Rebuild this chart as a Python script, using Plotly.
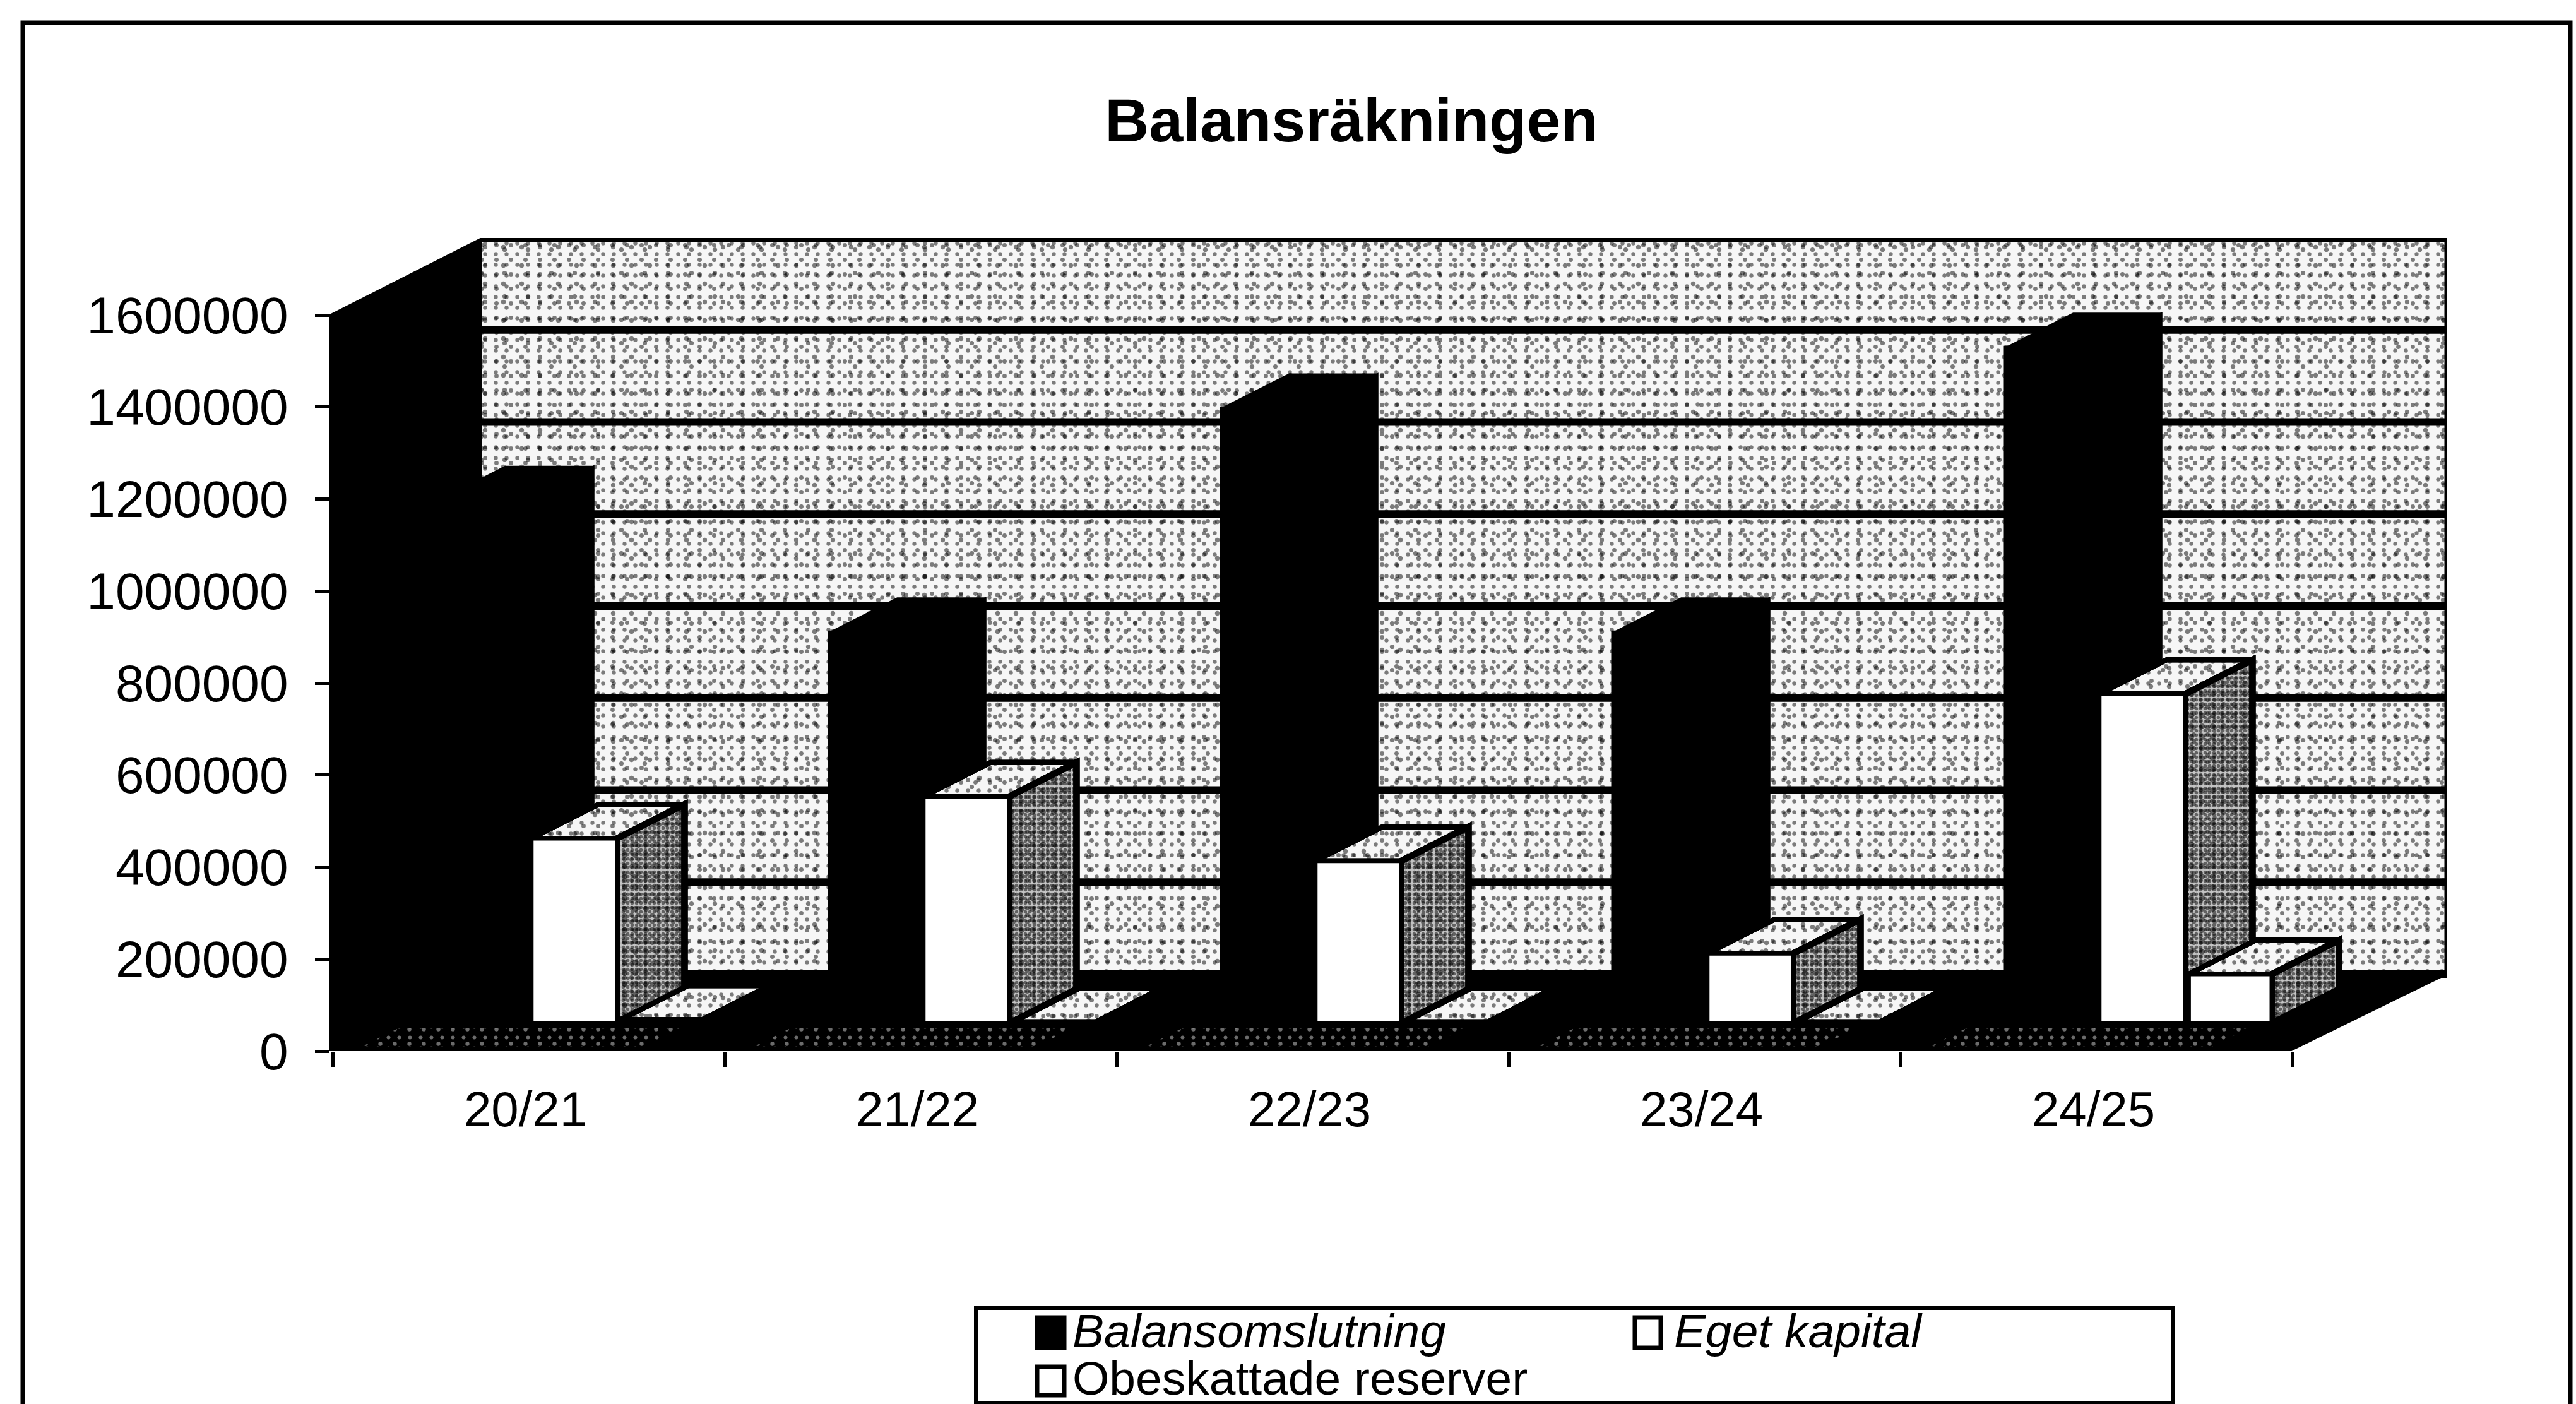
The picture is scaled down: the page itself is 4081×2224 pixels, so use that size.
import plotly.graph_objects as go

title = "Balansräkningen"
categories = ["20/21", "21/22", "22/23", "23/24", "24/25"]
series_names = ["Balansomslutning", "Eget kapital", "Obeskattade reserver"]
balansomslutning = [1135000, 849000, 1336000, 849000, 1468000]
eget_kapital = [402000, 493000, 353000, 152000, 716000]
obeskattade_reserver = [8000, 3000, 3000, 3000, 107000]
y_ticks = [0, 200000, 400000, 600000, 800000, 1000000, 1200000, 1400000, 1600000]

W, H = 4081, 2224
L, R, T, B = 522, 3876, 377, 1665      # plot area in page pixels
CAT_PX = 621
PX_Y = 1166 / 1600000
FONT = "Liberation Sans"

DX = 241 / CAT_PX            # full depth of the box in x units
DY = 122 / PX_Y              # full depth of the box in y units
T1, T2 = 44 / 122, 98 / 122  # bar front / back position in the depth
LIFT = T1 * DY
BAR_DX, BAR_DY = (T2 - T1) * DX, (T2 - T1) * DY
LEFT = [0.137, 0.375, 0.603]
RIGHT = [0.361, 0.594, 0.815]
XMAX = (R - L) / CAT_PX
YMAX = (B - T) / PX_Y
N = len(categories)
TICK_SHIFT = 5 / CAT_PX


def px(x):
    return (x - L) / (R - L)


def py(y):
    return (B - y) / (B - T)


def poly(xs, ys, z, pattern=None, color=None, lw=0):
    kw = dict(x=xs, y=ys, mode="lines", fill="toself", hoverinfo="skip",
              showlegend=False, zorder=z,
              line=dict(color="black", width=lw))
    if pattern:
        kw["fillpattern"] = pattern
        kw["fillcolor"] = "rgba(0,0,0,0)"
    else:
        kw["fillcolor"] = color
    return go.Scatter(**kw)


def dots(size, sol, fg="black", bg="rgba(0,0,0,0)", shape="."):
    return dict(shape=shape, size=size, solidity=sol, fgcolor=fg, bgcolor=bg,
                fillmode="overlay")


LIGHT = [dots(17, 0.11, bg="#f6f6f6"), dots(23, 0.07), dots(29, 0.05), dots(37, 0.03)]
DARK = [dots(7, 0.5, bg="#c4c4c4"), dots(11, 0.3), dots(17, 0.22)]

fig = go.Figure()

# back wall
wx = [DX, XMAX, XMAX, DX, DX]
wy = [DY, DY, YMAX, YMAX, DY]
for p in LIGHT:
    fig.add_trace(poly(wx, wy, 0, pattern=p))
gx, gy = [], []
for v in y_ticks:
    gx += [DX, XMAX, None]
    gy += [v + DY, v + DY, None]
fig.add_trace(go.Scatter(x=gx, y=gy, mode="lines", hoverinfo="skip", showlegend=False,
                         zorder=0, line=dict(color="black", width=12)))
fig.add_trace(go.Scatter(x=[XMAX, XMAX], y=[DY, YMAX], mode="lines", hoverinfo="skip",
                         showlegend=False, zorder=0, line=dict(color="black", width=7)))

# floor and left wall
fig.add_trace(poly([0, N, XMAX, DX, 0], [0, 0, DY, DY, 0], 1, color="black", lw=3))
fig.add_trace(poly([0, DX, DX, 0, 0], [0, DY, YMAX, 1600000, 0], 1, color="black", lw=2))
speck_x, speck_y = [], []
for i in range(N):
    a, b = i + 0.06, i + 0.78
    d1, d2 = 0.06, 0.30
    speck_x += [a + d1 * DX, b + d1 * DX, b + d2 * DX, a + d2 * DX, a + d1 * DX, None]
    speck_y += [d1 * DY, d1 * DY, d2 * DY, d2 * DY, d1 * DY, None]
fig.add_trace(poly(speck_x, speck_y, 1, pattern=dots(17, 0.1, fg="#d8d8d8", bg="black")))
fig.add_trace(poly(speck_x, speck_y, 1, pattern=dots(23, 0.06, fg="#d8d8d8")))

# bars, series by series from left to right
values = [balansomslutning, eget_kapital, obeskattade_reserver]
for s, vals in enumerate(values):
    z = 2 + 2 * s
    top_x, top_y, side_x, side_y = [], [], [], []
    for i, v in enumerate(vals):
        x0 = i + LEFT[s] + T1 * DX
        x1 = i + RIGHT[s] + T1 * DX
        y0, y1 = LIFT, LIFT + v
        top_x += [x0, x1, x1 + BAR_DX, x0 + BAR_DX, x0, None]
        top_y += [y1, y1, y1 + BAR_DY, y1 + BAR_DY, y1, None]
        side_x += [x1, x1 + BAR_DX, x1 + BAR_DX, x1, x1, None]
        side_y += [y0, y0 + BAR_DY, y1 + BAR_DY, y1, y0, None]
    if s == 0:
        fig.add_trace(poly(top_x, top_y, z, color="black", lw=4))
        fig.add_trace(poly(side_x, side_y, z, color="black", lw=4))
    else:
        for p in LIGHT:
            fig.add_trace(poly(top_x, top_y, z, pattern=p, lw=8))
        for p in DARK:
            fig.add_trace(poly(side_x, side_y, z, pattern=p, lw=10))
    fig.add_trace(go.Bar(
        x=[i + (LEFT[s] + RIGHT[s]) / 2 + T1 * DX for i in range(N)],
        y=vals, base=[LIFT] * N, width=RIGHT[s] - LEFT[s],
        name=series_names[s], zorder=z + 1, showlegend=False,
        marker=dict(color="black" if s == 0 else "white",
                    line=dict(color="black", width=7)),
    ))

# page frame and legend box
shapes = [
    dict(type="rect", xref="paper", yref="paper", x0=px(36), x1=px(4072), y0=py(2300), y1=py(36),
         line=dict(color="black", width=7), fillcolor="rgba(0,0,0,0)", layer="below"),
    dict(type="rect", xref="paper", yref="paper", x0=px(1546), x1=px(3442), y0=py(2222), y1=py(2072),
         line=dict(color="black", width=6), fillcolor="white"),
]
for (x0, x1, y0, y1, col) in [(1643, 1686, 2087, 2135, "black"),
                              (2590, 2631, 2087, 2135, "white"),
                              (1643, 1686, 2165, 2210, "white")]:
    shapes.append(dict(type="rect", xref="paper", yref="paper", x0=px(x0), x1=px(x1), y0=py(y1), y1=py(y0),
                       line=dict(color="black", width=7), fillcolor=col))

annotations = []
for text, x, y, italic in [(series_names[0], 1697, 2108, True),
                           (series_names[1], 2650, 2108, True),
                           (series_names[2], 1697, 2183, False)]:
    annotations.append(dict(text=text, xref="paper", yref="paper", x=px(x), y=py(y),
                            xanchor="left", yanchor="middle", showarrow=False,
                            font=dict(family=FONT, size=75, color="black",
                                      style="italic" if italic else "normal")))

fig.update_layout(
    width=W, height=H, autosize=False,
    margin=dict(l=L, r=W - R, t=T, b=H - B, pad=0),
    paper_bgcolor="white", plot_bgcolor="rgba(0,0,0,0)",
    barmode="overlay", showlegend=False,
    title=dict(text=f"<b>{title}</b>", x=2141 / W, y=1 - 190 / H, xref="container",
               xanchor="center", yanchor="middle",
               font=dict(family=FONT, size=97, color="black")),
    shapes=shapes, annotations=annotations,
    xaxis=dict(range=[0, XMAX], showgrid=False, zeroline=False, showline=False,
               tickmode="array", tickvals=[i + 0.5 for i in range(N)], ticktext=categories,
               ticks="", ticklabelstandoff=40,
               tickfont=dict(family=FONT, size=78, color="black"),
               minor=dict(tickmode="array", tickvals=[i + TICK_SHIFT for i in range(N + 1)],
                          ticks="outside", ticklen=24, tickwidth=5, tickcolor="black",
                          showgrid=False)),
    yaxis=dict(range=[0, YMAX], showgrid=False, zeroline=False, showline=False,
               tickmode="array", tickvals=y_ticks, ticktext=[str(v) for v in y_ticks],
               ticks="outside", ticklen=22, tickwidth=5, tickcolor="black",
               ticklabelstandoff=26,
               tickfont=dict(family=FONT, size=82, color="black")),
)

fig.write_html("out.html", config={"displayModeBar": False},
               post_script="document.body.style.margin='0';document.body.style.overflow='hidden';")
